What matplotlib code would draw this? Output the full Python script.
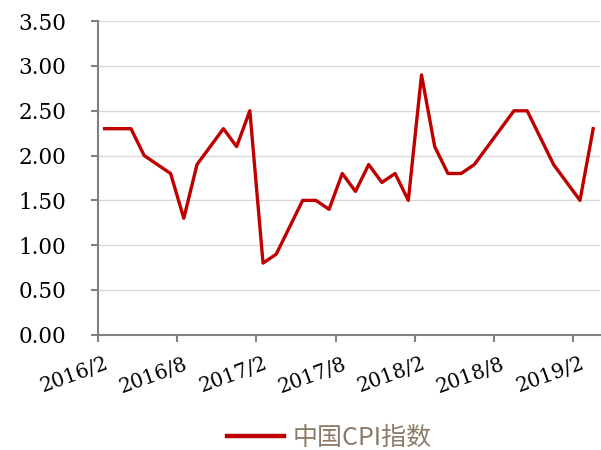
import matplotlib
matplotlib.use("Agg")
import matplotlib.pyplot as plt
import numpy as np

# monthly China CPI (yoy, %), 2016/2 - 2019/3
months = []
for y in range(2016, 2020):
    for m in range(1, 13):
        if (y == 2016 and m < 2) or (y == 2019 and m > 3):
            continue
        months.append("%d/%d" % (y, m))
cpi = [2.3, 2.3, 2.3, 2.0, 1.9, 1.8, 1.3, 1.9, 2.1, 2.3, 2.1,
       2.5, 0.8, 0.9, 1.2, 1.5, 1.5, 1.4, 1.8, 1.6, 1.9, 1.7, 1.8,
       1.5, 2.9, 2.1, 1.8, 1.8, 1.9, 2.1, 2.3, 2.5, 2.5, 2.2, 1.9,
       1.7, 1.5, 2.3]
yticks = [0.0, 0.5, 1.0, 1.5, 2.0, 2.5, 3.0, 3.5]
series_name = "中国CPI指数"

serif = "DejaVu Serif"

fig = plt.figure(figsize=(6.01, 4.5), dpi=100)
ax = fig.add_axes([0.163, 0.256, 0.835, 0.697])

x = np.arange(len(cpi))
ax.plot(x, cpi, color="#C00000", lw=2.4, label=series_name, zorder=3)

ax.set_xlim(-0.5, len(cpi) - 0.5)
ax.set_ylim(0, 3.5)

# y axis
ax.set_yticks(yticks)
ax.set_yticklabels(["%.2f" % v for v in yticks], fontfamily=serif, fontsize=15.5)
ax.grid(axis="y", color="#d9d9d9", lw=1)
ax.set_axisbelow(True)

# x axis: tick marks between categories, labels every 6 months
ax.set_xticks(np.arange(-0.5, len(cpi), 6))
ax.set_xticklabels([])
ax.set_xticks(np.arange(0, len(cpi), 6), minor=True)
ax.set_xticklabels([months[i] for i in range(0, len(cpi), 6)], minor=True,
                   fontfamily=serif, fontsize=14.5, rotation=20,
                   ha="right", rotation_mode="anchor")
ax.tick_params(axis="x", which="major", length=5, color="#808080", width=1.5)
ax.tick_params(axis="x", which="minor", length=0, pad=14)
ax.tick_params(axis="y", length=5, color="#808080", width=1.5, pad=18)

for s in ["top", "right"]:
    ax.spines[s].set_visible(False)
for s in ["left", "bottom"]:
    ax.spines[s].set_color("#808080")
    ax.spines[s].set_linewidth(1.5)

leg = fig.legend(loc="center", bbox_to_anchor=(0.548, 0.028), frameon=False,
                 handlelength=2.3, handletextpad=0.35,
                 prop={"family": ["Noto Sans CJK SC", "DejaVu Sans"], "size": 18})
for t in leg.get_texts():
    t.set_color("#8C7B68")
for h in leg.legend_handles:
    h.set_linewidth(3.2)

fig.savefig("out.png", dpi=100)
